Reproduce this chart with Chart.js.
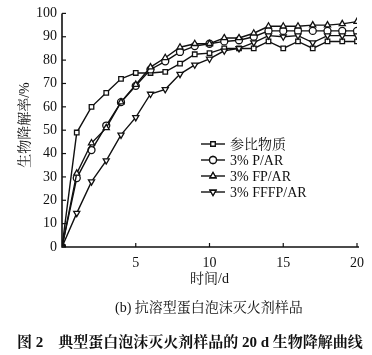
<!DOCTYPE html>
<html><head><meta charset="utf-8">
<script src="https://cdn.jsdelivr.net/npm/chart.js@4"></script>
<style>
html,body{margin:0;padding:0;background:#fff;}
#wrap{position:relative;width:372px;height:355px;}
canvas{position:absolute;left:0;top:0;}
.t{position:absolute;white-space:nowrap;color:#111;font-family:"Liberation Serif","Noto Serif CJK SC","Noto Sans CJK SC",serif;font-size:14px;line-height:16px;}
</style></head>
<body>
<div id="wrap">
<canvas id="c" width="372" height="355"></canvas>
<div class="t" id="xt" style="left:190px;top:271px;">时间/d</div>
<div class="t" style="left:115px;top:300px;">(b) 抗溶型蛋白泡沫灭火剂样品</div>
<div class="t" style="left:17px;top:334px;font-weight:bold;font-size:15px;">图 2&nbsp;&nbsp;&nbsp;&nbsp;典型蛋白泡沫灭火剂样品的 20 d 生物降解曲线</div>
</div>
<script>
const days = [0,1,2,3,4,5,6,7,8,9,10,11,12,13,14,15,16,17,18,19,20];
const seriesNames = ["参比物质","3% P/AR","3% FP/AR","3% FFFP/AR"];
const refValues   = [0,49,60,66,72,74.5,74.5,75,78.5,82.5,83,85,85,85,88,85,88,85,88,88,88];
const pValues     = [0,29.5,41.5,52,62,69,76,79.5,83.5,86,87,88,88.5,90,92.5,92.5,92.5,92.5,92.5,92.5,92.5];
const fpValues    = [0,31.5,44.5,51,62,69.5,77,81,85.5,87,87,89.5,89.5,91.5,94.5,94.5,94.5,95,95,95.5,96.5];
const fffpValues  = [0,14.5,28,37,48,55.5,65.5,67.5,74,78,80.5,84,85,87.5,90.5,90,90.5,87.5,90.5,90.5,90.5];
const yTicks = [0,10,20,30,40,50,60,70,80,90,100];
const xTicks = [5,10,15,20];

const styles = [
  {pointStyle:'rect', rotation:0},
  {pointStyle:'circle', rotation:0},
  {pointStyle:'triangle', rotation:0},
  {pointStyle:'triangle', rotation:180}
];
const allValues = [refValues,pValues,fpValues,fffpValues];
const datasets = allValues.map((vals,i)=>({
  label: seriesNames[i],
  data: days.map((d,j)=>({x:d,y:vals[j]})),
  borderColor:'#111', backgroundColor:'#fff', borderWidth:1.4,
  pointStyle: styles[i].pointStyle, rotation: styles[i].rotation,
  pointRadius: i===0?3.2:3.5, pointBorderWidth:1.3, pointBackgroundColor:'#fff', pointBorderColor:'#111',
  tension:0, order: 4-i
}));

const serif = "'Liberation Serif', 'Noto Serif CJK SC', 'Noto Sans CJK SC', serif";

const extras = {
  id:'extras',
  afterDraw(chart){
    const ctx = chart.ctx, xs = chart.scales.x, ys = chart.scales.y;
    ctx.save();
    ctx.strokeStyle='#111'; ctx.lineWidth=1.6;
    const x0 = xs.getPixelForValue(0), y0 = ys.getPixelForValue(0);
    ctx.beginPath();
    ctx.moveTo(x0, ys.getPixelForValue(100)); ctx.lineTo(x0, y0);
    ctx.lineTo(xs.getPixelForValue(20)+2, y0);
    ctx.stroke();
    ctx.lineWidth=1.2;
    yTicks.forEach(v=>{const p=ys.getPixelForValue(v); ctx.beginPath(); ctx.moveTo(x0,p); ctx.lineTo(x0+4,p); ctx.stroke();});
    xTicks.forEach(v=>{const p=xs.getPixelForValue(v); ctx.beginPath(); ctx.moveTo(p,y0); ctx.lineTo(p,y0-4); ctx.stroke();});
    ctx.fillStyle='#111';
    ctx.font = "14px "+serif;
    ctx.translate(25,125); ctx.rotate(-Math.PI/2);
    ctx.textAlign='center'; ctx.textBaseline='middle';
    ctx.fillText("生物降解率/%",0,0);
    ctx.restore();
    ctx.save();
    chart.data.datasets.forEach((ds,i)=>{
      const yy = 144 + i*16;
      ctx.strokeStyle='#111'; ctx.lineWidth=1.4;
      ctx.beginPath(); ctx.moveTo(201,yy); ctx.lineTo(225,yy); ctx.stroke();
      ctx.fillStyle='#fff'; ctx.lineWidth=1.3;
      Chart.helpers.drawPoint(ctx,{pointStyle:ds.pointStyle,rotation:ds.rotation,radius:ds.pointRadius,borderWidth:1.3},213,yy);
      ctx.fill(); ctx.stroke();
      ctx.fillStyle='#111'; ctx.font="14px "+serif; ctx.textAlign='left'; ctx.textBaseline='middle';
      ctx.fillText(ds.label,230,yy+1);
    });
    ctx.restore();
  }
};

new Chart(document.getElementById('c'),{
  type:'line',
  data:{datasets},
  options:{
    responsive:false, animation:false,
    layout:{padding:{left:0,top:13,right:12,bottom:0}},
    plugins:{legend:{display:false},tooltip:{enabled:false}},
    scales:{
      x:{type:'linear',min:0,max:20,
        afterFit(s){s.height=108;},
        afterBuildTicks(s){s.ticks = xTicks.map(v=>({value:v}));},
        grid:{display:false,drawOnChartArea:false,drawTicks:false},border:{display:false},
        ticks:{color:'#111',font:{family:serif,size:14},padding:8,maxRotation:0}
      },
      y:{type:'linear',min:0,max:100,
        afterFit(s){s.width=62;},
        afterBuildTicks(s){s.ticks = yTicks.map(v=>({value:v}));},
        grid:{display:false,drawOnChartArea:false,drawTicks:false},border:{display:false},
        ticks:{color:'#111',font:{family:serif,size:14},padding:5}
      }
    }
  },
  plugins:[extras]
});
</script>
</body></html>
